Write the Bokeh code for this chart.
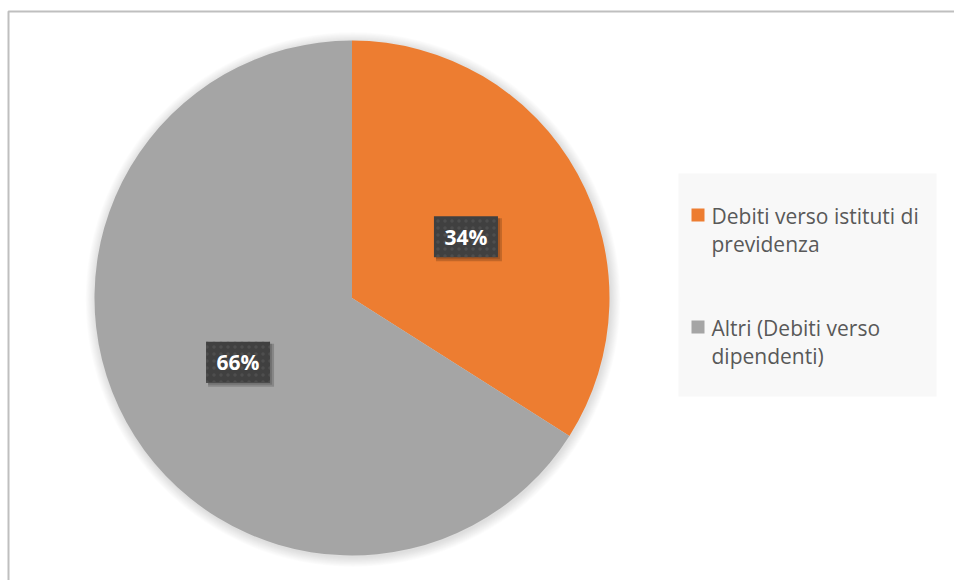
import math
from bokeh.plotting import figure
from bokeh.models import Range1d
from bokeh.embed import file_html
from bokeh.resources import INLINE
from bokeh.core.properties import value

# ---- data ----
categories = ["Debiti verso istituti di previdenza", "Altri (Debiti verso dipendenti)"]
values = [34, 66]
colors = ["#ED7D31", "#A5A5A5"]

# ---- layout ----
W, H = 954, 580
FONT = "Open Sans"
TXT_SHIFT = 8  # empirical baseline correction (px)


def X(px):
    return px


def Y(py):
    return H - py


p = figure(width=W, height=H, x_range=Range1d(0, W), y_range=Range1d(0, H),
           output_backend="svg", toolbar_location=None, min_border=0)
p.axis.visible = False
p.grid.visible = False
p.outline_line_color = None
p.background_fill_color = "white"
p.border_fill_color = "white"

# chart border (top and left visible)
p.line(x=[X(8), X(8), X(980)], y=[Y(620), Y(11), Y(11)], line_color="#BFBFBF", line_width=2)

cx, cy, R = X(351.5), Y(297.5), 257.5

# soft shadow around pie
for k in range(1, 12):
    p.circle(x=[cx + 1], y=[cy - 1.5], radius=R + k * 0.9, fill_color="black",
             fill_alpha=0.012, line_color=None)

total = float(sum(values))
cum = 0.0
mids = []
for v, c in zip(values, colors):
    c0 = cum / total
    c1 = (cum + v) / total
    cum += v
    p.wedge(x=[cx], y=[cy], radius=R, start_angle=90 - 360 * c1, end_angle=90 - 360 * c0,
            start_angle_units="deg", end_angle_units="deg", direction="anticlock",
            fill_color=c, line_color=None)
    mids.append((c0 + c1) / 2)

# data labels
for v, m in zip(values, mids):
    ang = math.radians(90 - 360 * m)
    lx = cx + 0.505 * R * math.cos(ang)
    ly = cy + 0.505 * R * math.sin(ang) - 1.5
    pct = "%d%%" % round(100 * v / total)
    p.rect(x=[lx + 3], y=[ly - 3], width=66, height=43, fill_color="black", fill_alpha=0.18, line_color=None)
    p.rect(x=[lx + 2], y=[ly - 2], width=64, height=41, fill_color="black", fill_alpha=0.15, line_color=None)
    p.rect(x=[lx], y=[ly], width=64, height=41, fill_color="#404040", line_color=None,
           hatch_pattern="dot", hatch_color="#4e4e4e", hatch_scale=7, hatch_weight=2)
    p.text(x=[lx], y=[ly - 8 + TXT_SHIFT], text=[pct], text_font=value(FONT), text_font_style="bold",
           text_font_size="21px", text_color="white", text_align="center", text_baseline="alphabetic")

# legend


def wrap(s, n=24):
    words = s.split()
    lines, cur = [], ""
    for w in words:
        t = (cur + " " + w).strip()
        if len(t) <= n:
            cur = t
        else:
            lines.append(cur)
            cur = w
    if cur:
        lines.append(cur)
    return lines


p.rect(x=[X(807)], y=[Y(284.5)], width=258, height=223, fill_color="#F8F8F8", line_color=None)
item_top = [208, 320]
for cat, c, top in zip(categories, colors, item_top):
    p.rect(x=[X(697.5)], y=[Y(top + 6.5)], width=13, height=13, fill_color=c, line_color=None)
    for j, ln in enumerate(wrap(cat)):
        p.text(x=[X(711)], y=[Y(top + 15 + 28.5 * j) + TXT_SHIFT], text=[ln], text_font=value(FONT),
               text_font_size="21px", text_color="#595959", text_align="left",
               text_baseline="alphabetic")

open("out.html", "w").write(file_html(p, INLINE))
